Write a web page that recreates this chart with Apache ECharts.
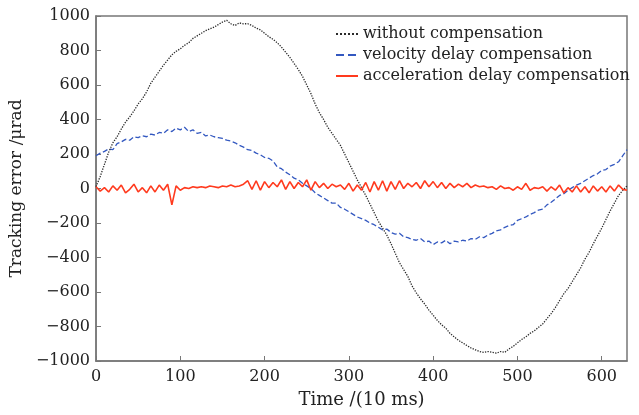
<!DOCTYPE html>
<html>
<head>
<meta charset="utf-8">
<script src="https://cdn.jsdelivr.net/npm/echarts@6/dist/echarts.min.js"></script>
<style>
  html, body { margin: 0; padding: 0; background: #fff; }
  #chart { width: 639px; height: 415px; }
</style>
</head>
<body>
<div id="chart"></div>
<script>
// sample times, unit 10 ms
const times = [
  0, 5, 10, 15, 20, 25, 30, 35, 40, 45, 50, 55, 60, 65, 70, 75, 80, 85, 90, 95,
  100, 105, 110, 115, 120, 125, 130, 135, 140, 145, 150, 155, 160, 165, 170, 175, 180, 185, 190, 195,
  200, 205, 210, 215, 220, 225, 230, 235, 240, 245, 250, 255, 260, 265, 270, 275, 280, 285, 290, 295,
  300, 305, 310, 315, 320, 325, 330, 335, 340, 345, 350, 355, 360, 365, 370, 375, 380, 385, 390, 395,
  400, 405, 410, 415, 420, 425, 430, 435, 440, 445, 450, 455, 460, 465, 470, 475, 480, 485, 490, 495,
  500, 505, 510, 515, 520, 525, 530, 535, 540, 545, 550, 555, 560, 565, 570, 575, 580, 585, 590, 595,
  600, 605, 610, 615, 620, 625, 630
];

const withoutComp = [
  10, 70, 140, 210, 265, 300, 345, 385, 415, 450, 490, 520, 560, 610, 645, 680, 715, 745, 775, 795,
  810, 830, 845, 870, 885, 900, 915, 925, 935, 950, 965, 975, 955, 945, 960, 955, 955, 945, 930, 920,
  900, 880, 865, 845, 820, 790, 760, 725, 690, 650, 600, 550, 490, 440, 400, 355, 320, 285, 250, 200,
  150, 100, 50, 5, -40, -90, -140, -190, -230, -270, -320, -375, -430, -470, -510, -565, -605, -640, -670, -705,
  -735, -765, -790, -810, -840, -860, -880, -895, -910, -925, -935, -945, -950, -945, -950, -955, -945, -950, -930, -915,
  -895, -875, -860, -840, -825, -805, -785, -755, -725, -690, -650, -610, -580, -540, -500, -460, -410, -370, -320, -275,
  -230, -180, -130, -85, -40, -10, 15
];

const velocityComp = [
  190, 205, 215, 230, 225, 260, 270, 285, 280, 300, 295, 305, 300, 315, 310, 325, 320, 340, 330, 350,
  340, 355, 330, 340, 320, 325, 305, 310, 300, 295, 290, 280, 275, 265, 250, 240, 225, 220, 205, 195,
  180, 175, 160, 125, 115, 95, 80, 60, 50, 30, 15, 0, -25, -40, -55, -70, -85, -85, -110, -120,
  -135, -150, -165, -175, -185, -200, -210, -225, -240, -235, -255, -265, -260, -280, -285, -295, -300, -290, -310, -305,
  -325, -310, -315, -300, -320, -305, -310, -300, -305, -290, -295, -280, -285, -270, -260, -245, -240, -225, -215, -210,
  -185, -175, -165, -150, -140, -125, -120, -95, -80, -60, -40, -30, -10, 5, 20, 30, 45, 60, 75, 85,
  105, 110, 130, 140, 155, 190, 225
];

const accelComp = [
  10, -15, 5, -20, 15, -10, 20, -25, -5, 25, -20, 5, -25, 15, -20, 20, -10, 25, -95, 15,
  -10, 5, 0, 10, 5, 10, 5, 15, 10, 5, 15, 10, 20, 10, 15, 25, 45, -5, 45, -10,
  40, 5, 35, 10, 50, -5, 40, 0, 35, 10, 50, -10, 40, 5, 30, 0, 25, 10, 20, -5,
  30, -15, 20, -10, 35, -20, 40, -10, 45, -15, 40, -5, 45, 0, 30, 10, 35, 0, 45, 10,
  40, 5, 35, 0, 30, 5, 25, 10, 30, 5, 20, 10, 15, 5, 10, -5, 15, 0, 5, -10,
  10, -5, 30, -10, 5, 0, 10, -15, 10, -10, 20, -25, 5, -20, 15, -20, 10, -25, 15, -15,
  10, -20, 15, -15, 20, -5, -10
];

const seriesNames = ['without compensation', 'velocity delay compensation', 'acceleration delay compensation'];
const yTicks = [-1000, -800, -600, -400, -200, 0, 200, 400, 600, 800, 1000];

const pair = (vals) => times.map((t, i) => [t, vals[i]]);
const serif = 'DejaVu Serif';

const chart = echarts.init(document.getElementById('chart'));
chart.setOption({
  animation: false,
  backgroundColor: '#fff',
  grid: { left: 94, right: 12, top: 16, bottom: 54, show: true, borderColor: '#777', borderWidth: 1.5, backgroundColor: 'transparent' },
  legend: {
    orient: 'vertical',
    left: 330, top: 21,
    itemWidth: 22, itemHeight: 10, itemGap: 5,
    data: seriesNames,
    itemStyle: { color: 'transparent', borderWidth: 0 },
    textStyle: { fontFamily: serif, fontSize: 16, color: '#222' }
  },
  xAxis: {
    type: 'value', min: 0, max: 630, interval: 100,
    name: 'Time /(10 ms)', nameLocation: 'middle', nameGap: 30,
    nameTextStyle: { fontFamily: serif, fontSize: 18, color: '#222' },
    axisLine: { onZero: false, lineStyle: { color: '#777', width: 1.5 } },
    axisTick: { inside: true, length: 5, lineStyle: { color: '#777' } },
    axisLabel: { fontFamily: serif, fontSize: 16, color: '#222', margin: 8, showMaxLabel: false },
    splitLine: { show: false }
  },
  yAxis: {
    type: 'value', min: yTicks[0], max: yTicks[yTicks.length - 1], interval: 200,
    name: 'Tracking error /μrad', nameLocation: 'middle', nameGap: 60,
    nameTextStyle: { fontFamily: serif, fontSize: 17, color: '#222' },
    axisLine: { show: true, onZero: false, lineStyle: { color: '#777', width: 1.5 } },
    axisTick: { show: true, inside: true, length: 5, lineStyle: { color: '#777' } },
    axisLabel: { fontFamily: serif, fontSize: 16, color: '#222', margin: 6, formatter: (v) => (v < 0 ? '\u2212' + Math.abs(v) : String(v)) },
    splitLine: { show: false }
  },
  series: [
    { name: seriesNames[0], type: 'line', data: pair(withoutComp), symbol: 'none', z: 3,
      lineStyle: { color: '#2a2a2a', width: 1.3, type: 'dotted' }, itemStyle: { color: '#2a2a2a' } },
    { name: seriesNames[1], type: 'line', data: pair(velocityComp), symbol: 'none', z: 2,
      lineStyle: { color: '#3358c0', width: 1.3, type: 'dashed' }, itemStyle: { color: '#3358c0' } },
    { name: seriesNames[2], type: 'line', data: pair(accelComp), symbol: 'none', z: 4,
      lineStyle: { color: '#ff3a1e', width: 1.6 }, itemStyle: { color: '#ff3a1e' } }
  ]
});
</script>
</body>
</html>
